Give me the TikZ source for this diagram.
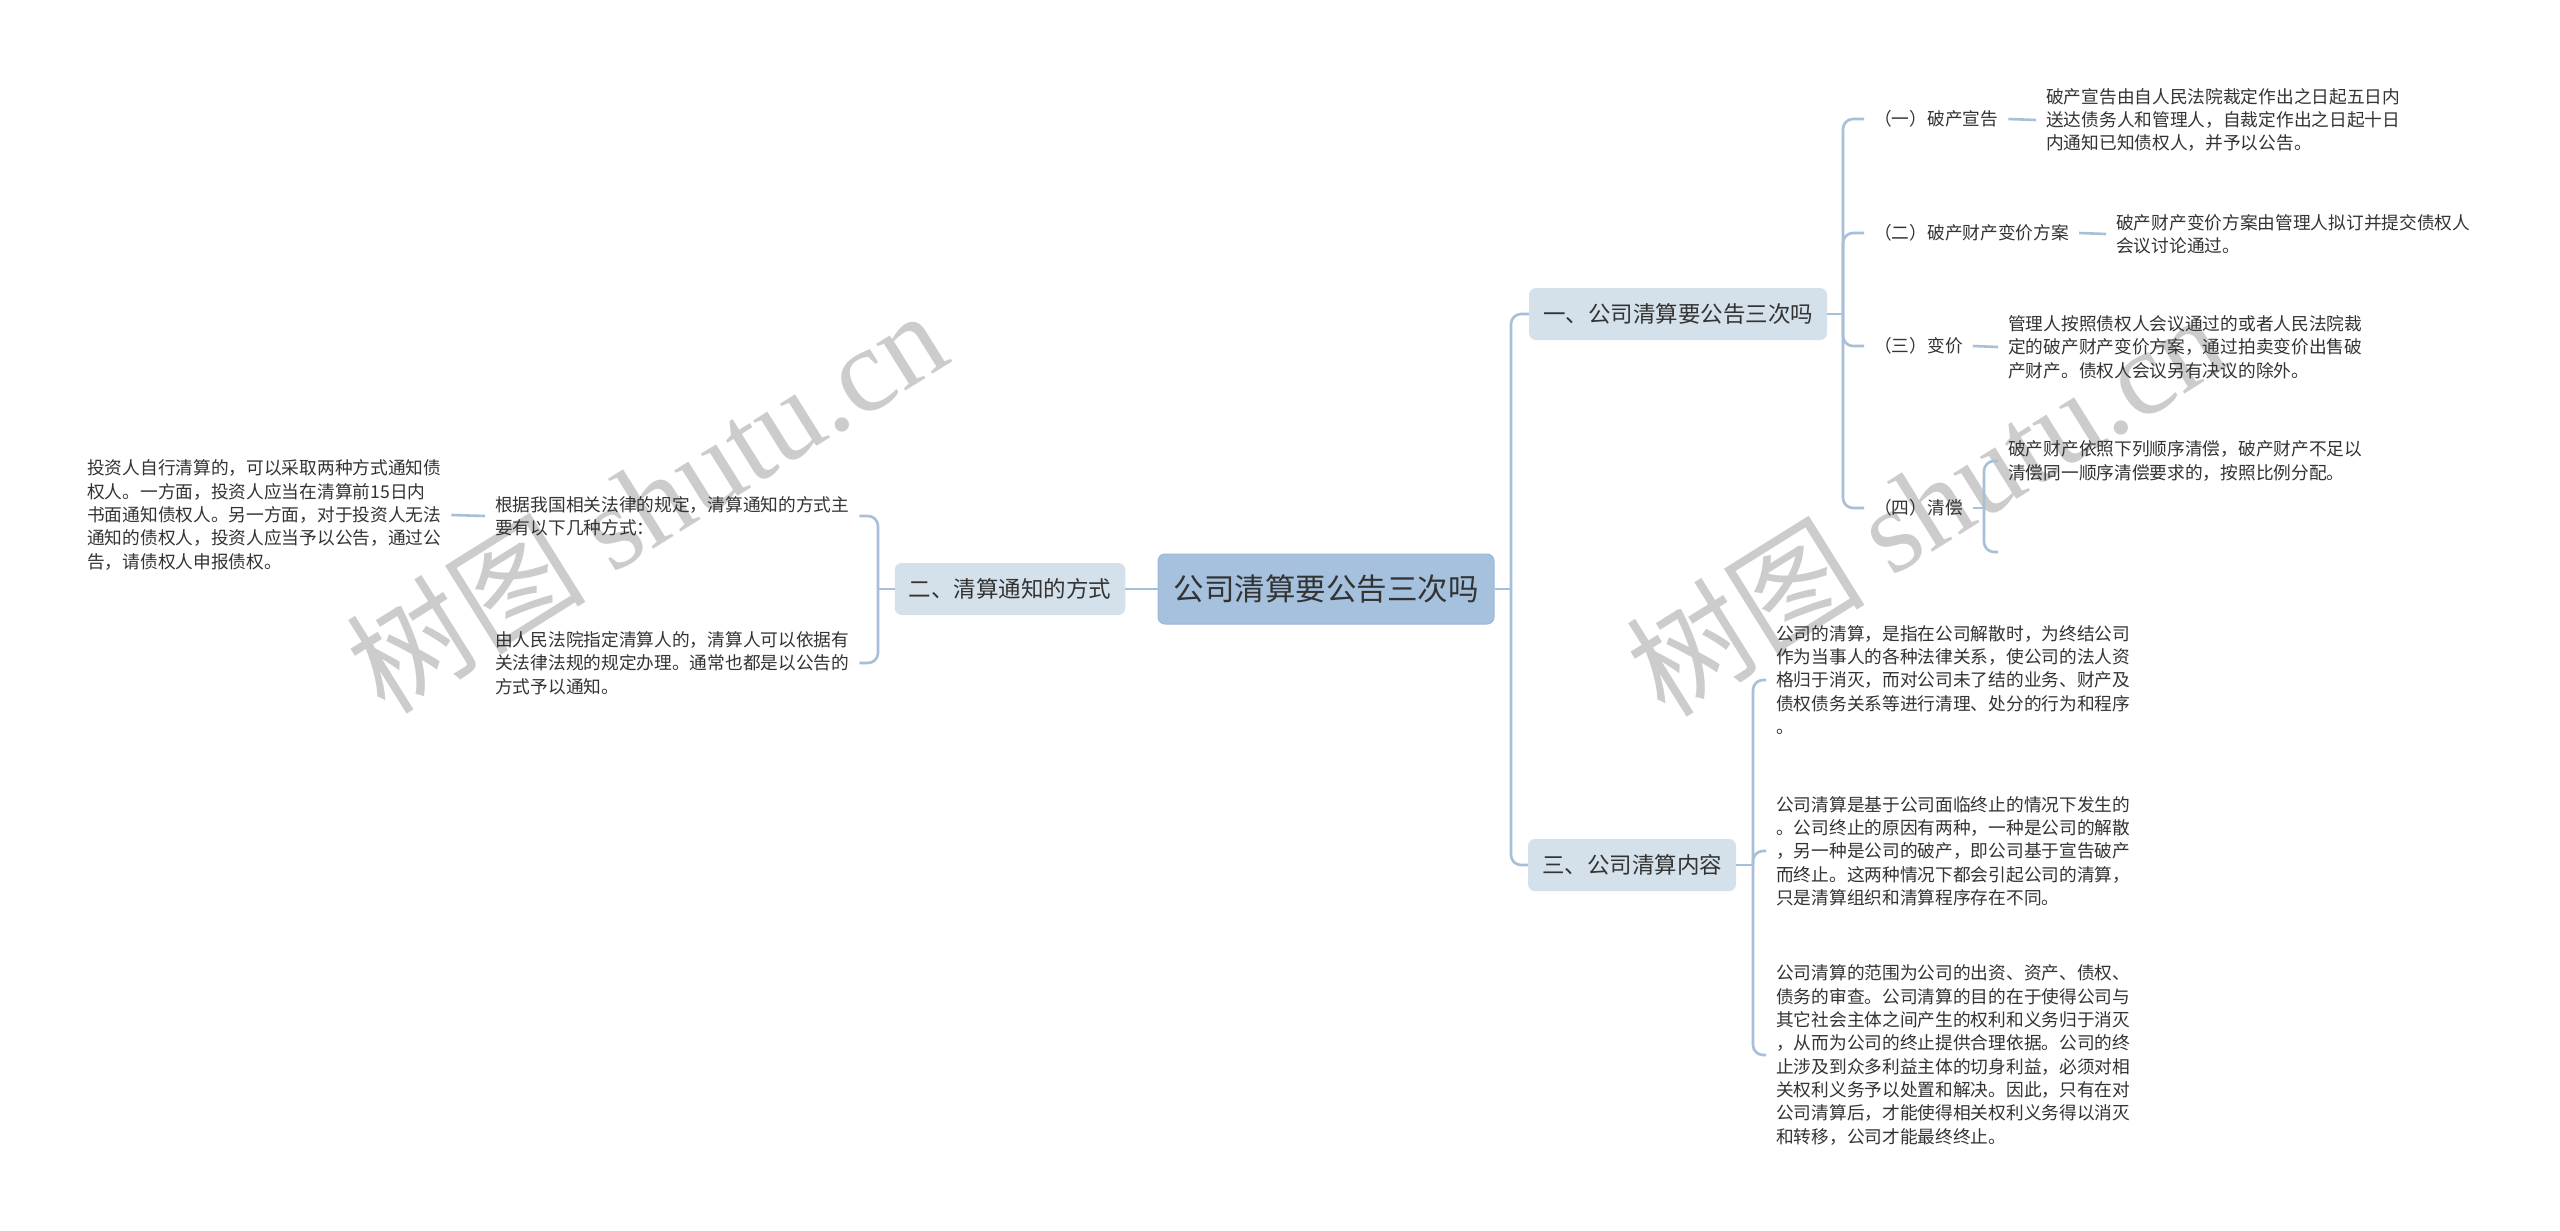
\documentclass[tikz,border=0pt]{standalone}
\usepackage{fontspec}
\setmainfont{Noto Sans CJK SC}
\newfontfamily\cjkfont{Noto Sans CJK SC}
\newfontfamily\wmlatin{Liberation Serif}
\definecolor{lc}{HTML}{A7C0D8}
\definecolor{rootc}{HTML}{A6C1DD}
\definecolor{rootd}{HTML}{9DB8D6}
\definecolor{brc}{HTML}{D5E1EA}
\definecolor{txt}{HTML}{333333}
\begin{document}
\begin{tikzpicture}[x=1pt,y=-1pt,
  conn/.style={draw=lc, line width=2.6pt, rounded corners=10pt},
  rootbox/.style={fill=rootc, draw=rootd, line width=1pt, rounded corners=7pt, minimum width=336pt, minimum height=70pt, inner xsep=15pt, font=\fontsize{30.5}{36}\selectfont, text=txt},
  branch/.style={fill=brc, rounded corners=7pt, minimum height=52pt, inner xsep=14pt, font=\fontsize{22.5}{27}\selectfont, text=txt},
  lab/.style={inner xsep=10pt, inner ysep=3pt, font=\fontsize{17.7}{23.3}\selectfont, text=txt},
  para/.style={inner xsep=10pt, inner ysep=3pt, align=left, font=\fontsize{17.7}{23.3}\selectfont, text=txt},
  wm/.style={text=black!20, font=\fontsize{120}{130}\selectfont, inner sep=0pt},
]
\fill[white] (0,0) rectangle (2560,1231);
\useasboundingbox (0,0) rectangle (2560,1231);

% watermarks
\node[wm, rotate=32] (w1) at (646,500) {\cjkfont 树图 \wmlatin shutu.cn};
\node[wm, rotate=32] (w2) at (1925,503) {\cjkfont 树图 \wmlatin shutu.cn};

% root and branches
\node[rootbox] (root) at (1326,589) {公司清算要公告三次吗};
\node[branch] (b1) at (1678,314) {一、公司清算要公告三次吗};
\node[branch] (b2) at (1010,589) {二、清算通知的方式};
\node[branch] (b3) at (1632,865) {三、公司清算内容};

% branch 1 children
\node[lab, anchor=west] (l1) at (1864,119) {（一）破产宣告};
\node[lab, anchor=west] (l2) at (1864,233) {（二）破产财产变价方案};
\node[lab, anchor=west] (l3) at (1864,346) {（三）变价};
\node[lab, anchor=west] (l4) at (1864,508) {（四）清偿};

\node[para, anchor=west] (p1) at (2036,120) {破产宣告由自人民法院裁定作出之日起五日内\\送达债务人和管理人，自裁定作出之日起十日\\内通知已知债权人，并予以公告。};
\node[para, anchor=west] (p2) at (2106,234) {破产财产变价方案由管理人拟订并提交债权人\\会议讨论通过。};
\node[para, anchor=west] (p3) at (1998,347) {管理人按照债权人会议通过的或者人民法院裁\\定的破产财产变价方案，通过拍卖变价出售破\\产财产。债权人会议另有决议的除外。};
\node[para, anchor=west] (p4) at (1998,461) {破产财产依照下列顺序清偿，破产财产不足以\\清偿同一顺序清偿要求的，按照比例分配。};
\coordinate (e4) at (1998,552);

% branch 3 children
\node[para, anchor=west] (s1) at (1766,680) {公司的清算，是指在公司解散时，为终结公司\\作为当事人的各种法律关系，使公司的法人资\\格归于消灭，而对公司未了结的业务、财产及\\债权债务关系等进行清理、处分的行为和程序\\。};
\node[para, anchor=west] (s2) at (1766,851) {公司清算是基于公司面临终止的情况下发生的\\。公司终止的原因有两种，一种是公司的解散\\，另一种是公司的破产，即公司基于宣告破产\\而终止。这两种情况下都会引起公司的清算，\\只是清算组织和清算程序存在不同。};
\node[para, anchor=west] (s3) at (1766,1055) {公司清算的范围为公司的出资、资产、债权、\\债务的审查。公司清算的目的在于使得公司与\\其它社会主体之间产生的权利和义务归于消灭\\，从而为公司的终止提供合理依据。公司的终\\止涉及到众多利益主体的切身利益，必须对相\\关权利义务予以处置和解决。因此，只有在对\\公司清算后，才能使得相关权利义务得以消灭\\和转移，公司才能最终终止。};

% branch 2 children
\node[para, anchor=west] (c1) at (485,516) {根据我国相关法律的规定，清算通知的方式主\\要有以下几种方式：};
\node[para, anchor=west] (c2) at (485,663) {由人民法院指定清算人的，清算人可以依据有\\关法律法规的规定办理。通常也都是以公告的\\方式予以通知。};
\node[para, anchor=west] (d1) at (77,515) {投资人自行清算的，可以采取两种方式通知债\\权人。一方面，投资人应当在清算前15日内\\书面通知债权人。另一方面，对于投资人无法\\通知的债权人，投资人应当予以公告，通过公\\告，请债权人申报债权。};

% connectors
\draw[conn] (root.east) -- (1511,589) coordinate (rt);
\draw[conn] (rt) |- (b1.west);
\draw[conn] (rt) |- (b3.west);
\draw[conn] (root.west) -- (b2.east);

\draw[conn] (b1.east) -- (1843,314) coordinate (t1);
\draw[conn] (t1) |- (l1.west);
\draw[conn] (t1) |- (l2.west);
\draw[conn] (t1) |- (l3.west);
\draw[conn] (t1) |- (l4.west);
\draw[conn] (l1.east) -- (p1.west);
\draw[conn] (l2.east) -- (p2.west);
\draw[conn] (l3.east) -- (p3.west);
\draw[conn] (l4.east) -- (1984,508) coordinate (t4);
\draw[conn] (t4) |- (p4.west);
\draw[conn] (t4) |- (e4);

\draw[conn] (b3.east) -- (1753,865) coordinate (t3);
\draw[conn] (t3) |- (s1.west);
\draw[conn] (t3) |- (s2.west);
\draw[conn] (t3) |- (s3.west);

\draw[conn] (b2.west) -- (878,589) coordinate (t2);
\draw[conn] (t2) |- (c1.east);
\draw[conn] (t2) |- (c2.east);
\draw[conn] (c1.west) -- (d1.east);
\end{tikzpicture}
\end{document}
